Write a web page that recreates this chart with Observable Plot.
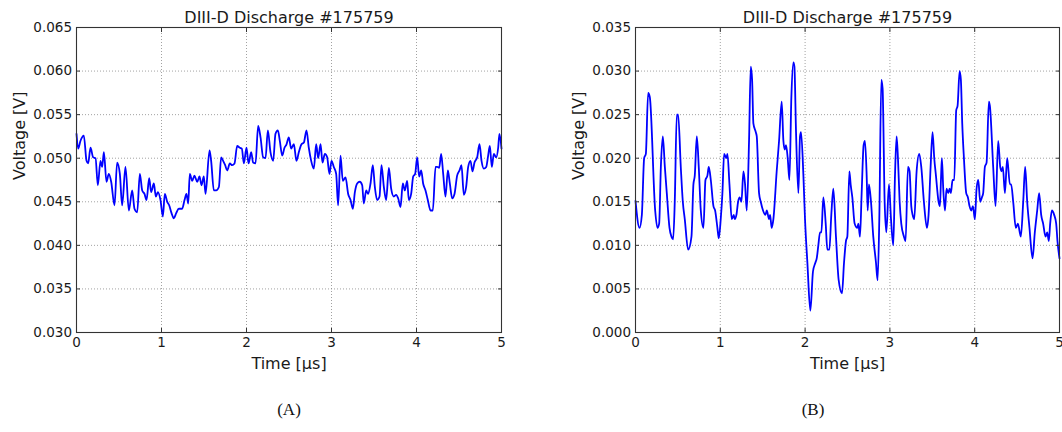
<!DOCTYPE html>
<html>
<head>
<meta charset="utf-8">
<script src="https://cdn.jsdelivr.net/npm/d3@7"></script>
<script src="https://cdn.jsdelivr.net/npm/@observablehq/plot@0.6"></script>
<style>
  html, body { margin: 0; padding: 0; background: #fff; }
  #page { position: relative; width: 1062px; height: 432px; overflow: hidden; background: #fff; }
  .panel { position: absolute; top: 0; width: 520px; height: 380px; }
  .caption { position: absolute; top: 400px; width: 60px; margin-left: -30px; text-align: center;
             font-family: "Liberation Serif", "DejaVu Serif", serif; font-size: 17px; color: #111; }
</style>
</head>
<body>
<div id="page">
  <div class="panel" id="panelA" style="left:0px"></div>
  <div class="panel" id="panelB" style="left:560px"></div>
  <div class="caption" style="left:289px">(A)</div>
  <div class="caption" style="left:813px">(B)</div>
</div>
<script>
// Shared chart text and ticks
const chartTitle = "DIII-D Discharge #175759";
const xLabel = "Time [\u03bcs]";
const yLabel = "Voltage [V]";
const xTicks = [0, 1, 2, 3, 4, 5];
const yTicksA = [0.030, 0.035, 0.040, 0.045, 0.050, 0.055, 0.060, 0.065];
const yTicksB = [0.000, 0.005, 0.010, 0.015, 0.020, 0.025, 0.030, 0.035];

// Trace A: time [µs] and probe voltage [V]
const timeA = [0,0.020,0.047,0.086,0.118,0.137,0.165,0.196,0.224,0.251,0.282,0.302,0.322,0.353,0.380,0.408,0.447,0.478,0.510,0.537,0.576,0.616,0.655,0.682,0.714,0.745,0.773,0.800,0.824,0.855,0.878,0.910,0.933,0.957,0.988,1.016,1.039,1.067,1.090,1.118,1.145,1.173,1.204,1.243,1.271,1.294,1.314,1.333,1.361,1.388,1.420,1.447,1.471,1.498,1.518,1.565,1.584,1.616,1.643,1.675,1.702,1.725,1.749,1.773,1.804,1.831,1.859,1.890,1.922,1.945,1.969,2.000,2.024,2.055,2.078,2.106,2.137,2.165,2.196,2.224,2.251,2.282,2.314,2.341,2.369,2.392,2.420,2.447,2.471,2.498,2.525,2.557,2.588,2.616,2.647,2.675,2.706,2.733,2.761,2.792,2.820,2.843,2.871,2.894,2.922,2.949,2.976,3.000,3.027,3.055,3.078,3.106,3.133,3.165,3.196,3.224,3.251,3.275,3.302,3.333,3.361,3.380,3.408,3.431,3.459,3.486,3.510,3.537,3.565,3.588,3.616,3.643,3.675,3.702,3.733,3.761,3.784,3.812,3.839,3.863,3.890,3.910,3.937,3.961,3.984,4.008,4.031,4.055,4.078,4.106,4.133,4.165,4.192,4.224,4.243,4.267,4.290,4.314,4.341,4.369,4.392,4.420,4.447,4.478,4.506,4.529,4.557,4.584,4.608,4.635,4.659,4.682,4.714,4.741,4.765,4.792,4.820,4.843,4.863,4.886,4.910,4.937,4.961,4.976,5.000];
const voltageA = [0.0528,0.0511,0.0520,0.0526,0.0497,0.0494,0.0512,0.0501,0.0500,0.0469,0.0497,0.0490,0.0507,0.0473,0.0482,0.0473,0.0446,0.0495,0.0482,0.0446,0.0490,0.0440,0.0463,0.0442,0.0438,0.0482,0.0463,0.0459,0.0452,0.0477,0.0461,0.0471,0.0456,0.0461,0.0452,0.0433,0.0459,0.0450,0.0446,0.0437,0.0431,0.0437,0.0442,0.0442,0.0452,0.0459,0.0448,0.0482,0.0474,0.0480,0.0473,0.0479,0.0469,0.0479,0.0459,0.0509,0.0497,0.0463,0.0463,0.0467,0.0501,0.0497,0.0492,0.0486,0.0494,0.0492,0.0494,0.0514,0.0512,0.0511,0.0494,0.0512,0.0494,0.0507,0.0495,0.0494,0.0537,0.0524,0.0501,0.0500,0.0532,0.0507,0.0497,0.0528,0.0532,0.0520,0.0503,0.0512,0.0516,0.0524,0.0511,0.0516,0.0497,0.0507,0.0516,0.0518,0.0532,0.0512,0.0497,0.0488,0.0516,0.0500,0.0516,0.0495,0.0505,0.0501,0.0482,0.0497,0.0490,0.0482,0.0446,0.0503,0.0474,0.0478,0.0459,0.0452,0.0442,0.0461,0.0471,0.0473,0.0469,0.0448,0.0463,0.0459,0.0471,0.0492,0.0467,0.0452,0.0456,0.0492,0.0467,0.0452,0.0489,0.0465,0.0456,0.0458,0.0454,0.0444,0.0471,0.0463,0.0474,0.0452,0.0459,0.0479,0.0482,0.0501,0.0479,0.0486,0.0471,0.0463,0.0452,0.0440,0.0440,0.0490,0.0490,0.0489,0.0505,0.0482,0.0456,0.0486,0.0471,0.0454,0.0459,0.0480,0.0486,0.0492,0.0458,0.0467,0.0490,0.0497,0.0485,0.0495,0.0501,0.0516,0.0497,0.0488,0.0490,0.0503,0.0514,0.0490,0.0505,0.0501,0.0512,0.0528,0.0511];

// Trace B: time [µs] and probe voltage [V]
const timeB = [0,0.047,0.075,0.102,0.122,0.149,0.169,0.232,0.259,0.279,0.299,0.322,0.346,0.369,0.401,0.424,0.444,0.463,0.487,0.503,0.534,0.558,0.581,0.621,0.660,0.683,0.699,0.723,0.746,0.770,0.801,0.825,0.848,0.864,0.888,0.919,0.939,0.966,0.982,1.005,1.025,1.045,1.072,1.084,1.108,1.135,1.159,1.170,1.190,1.210,1.229,1.249,1.273,1.292,1.312,1.339,1.359,1.375,1.390,1.418,1.430,1.457,1.477,1.504,1.532,1.548,1.575,1.587,1.606,1.626,1.665,1.693,1.724,1.744,1.760,1.775,1.795,1.815,1.838,1.862,1.874,1.893,1.921,1.940,1.952,1.980,1.999,2.027,2.062,2.093,2.121,2.137,2.156,2.176,2.192,2.215,2.243,2.262,2.286,2.309,2.333,2.364,2.396,2.435,2.459,2.482,2.498,2.522,2.537,2.557,2.584,2.616,2.628,2.647,2.667,2.690,2.706,2.726,2.738,2.753,2.777,2.804,2.836,2.855,2.875,2.899,2.914,2.938,2.958,2.989,3.013,3.040,3.060,3.079,3.095,3.115,3.134,3.166,3.185,3.213,3.232,3.252,3.268,3.287,3.315,3.346,3.370,3.401,3.437,3.456,3.480,3.503,3.523,3.543,3.574,3.590,3.602,3.613,3.629,3.649,3.668,3.688,3.704,3.719,3.739,3.759,3.782,3.798,3.822,3.837,3.853,3.873,3.900,3.920,3.939,3.959,3.979,4.002,4.022,4.042,4.065,4.085,4.100,4.120,4.140,4.167,4.179,4.218,4.246,4.277,4.301,4.317,4.332,4.356,4.383,4.415,4.430,4.454,4.485,4.509,4.544,4.572,4.595,4.619,4.646,4.682,4.709,4.737,4.760,4.784,4.807,4.835,4.855,4.874,4.890,4.910,4.937,4.961,4.976,5.000];
const voltageB = [0.0151,0.0120,0.0135,0.0200,0.0205,0.0275,0.0270,0.0140,0.0120,0.0125,0.0190,0.0225,0.0190,0.0160,0.0120,0.0110,0.0107,0.0150,0.0250,0.0250,0.0190,0.0150,0.0130,0.0095,0.0110,0.0170,0.0180,0.0225,0.0190,0.0140,0.0120,0.0175,0.0180,0.0190,0.0175,0.0145,0.0140,0.0120,0.0108,0.0130,0.0160,0.0205,0.0200,0.0205,0.0170,0.0130,0.0135,0.0130,0.0135,0.0150,0.0155,0.0150,0.0185,0.0170,0.0140,0.0220,0.0305,0.0290,0.0240,0.0230,0.0225,0.0160,0.0150,0.0140,0.0135,0.0140,0.0130,0.0135,0.0120,0.0130,0.0185,0.0220,0.0265,0.0220,0.0210,0.0215,0.0200,0.0175,0.0270,0.0310,0.0305,0.0230,0.0160,0.0225,0.0230,0.0180,0.0130,0.0080,0.0025,0.0070,0.0080,0.0085,0.0100,0.0115,0.0115,0.0155,0.0125,0.0095,0.0095,0.0135,0.0165,0.0110,0.0060,0.0045,0.0080,0.0105,0.0110,0.0185,0.0170,0.0155,0.0125,0.0120,0.0125,0.0110,0.0160,0.0215,0.0220,0.0180,0.0140,0.0170,0.0150,0.0110,0.0080,0.0060,0.0130,0.0290,0.0280,0.0150,0.0115,0.0170,0.0130,0.0100,0.0180,0.0225,0.0200,0.0150,0.0125,0.0110,0.0105,0.0190,0.0185,0.0145,0.0135,0.0130,0.0185,0.0205,0.0190,0.0150,0.0120,0.0135,0.0190,0.0230,0.0200,0.0180,0.0150,0.0145,0.0175,0.0200,0.0165,0.0140,0.0165,0.0160,0.0165,0.0160,0.0175,0.0175,0.0255,0.0260,0.0300,0.0290,0.0240,0.0200,0.0160,0.0155,0.0145,0.0140,0.0145,0.0130,0.0165,0.0175,0.0150,0.0155,0.0160,0.0190,0.0195,0.0265,0.0260,0.0190,0.0145,0.0220,0.0190,0.0185,0.0190,0.0160,0.0200,0.0170,0.0170,0.0150,0.0120,0.0125,0.0110,0.0150,0.0190,0.0150,0.0120,0.0085,0.0115,0.0140,0.0160,0.0135,0.0125,0.0110,0.0115,0.0105,0.0125,0.0140,0.0135,0.0125,0.0105,0.0085];

const font = "'DejaVu Sans', 'Bitstream Vera Sans', sans-serif";
const ink = "#1a1a1a";

function tracePanel(time, voltage, yTicks, marginLeft, marginRight) {
  const rows = time.map((t, i) => ({t, v: voltage[i]}));
  const grid = {stroke: "#8a8a8a", strokeOpacity: 1, strokeWidth: 0.8, strokeDasharray: "1,2"};
  return Plot.plot({
    width: 520,
    height: 380,
    marginLeft,
    marginRight,
    marginTop: 27,
    marginBottom: 48,
    style: {fontFamily: font, fontSize: "13.5px", color: ink, background: "transparent", overflow: "visible"},
    x: {domain: [0, 5]},
    y: {domain: [yTicks[0], yTicks[yTicks.length - 1]]},
    marks: [
      Plot.gridX(xTicks, grid),
      Plot.gridY(yTicks, grid),
      Plot.line(rows, {x: "t", y: "v", curve: "monotone-x", stroke: "#0000ff", strokeWidth: 1.8, strokeLinejoin: "round"}),
      Plot.frame({stroke: "#333", strokeWidth: 1.1}),
      // inward ticks on all four sides, labels on left and bottom only
      Plot.axisX(xTicks, {anchor: "bottom", tickSize: -4, tickPadding: 9, tickFormat: d3.format("d"), label: null, stroke: "#333"}),
      Plot.axisX(xTicks, {anchor: "top", tickSize: -4, tickFormat: () => "", label: null, stroke: "#333"}),
      Plot.axisY(yTicks, {anchor: "left", tickSize: -4, tickPadding: 8.5, tickFormat: d3.format(".3f"), label: null, stroke: "#333"}),
      Plot.axisY(yTicks, {anchor: "right", tickSize: -4, tickFormat: () => "", label: null, stroke: "#333"}),
      Plot.text([chartTitle], {frameAnchor: "top", dy: -10, lineAnchor: "middle", fontSize: 16, fill: ink}),
      Plot.text([xLabel], {frameAnchor: "bottom", dy: 31, lineAnchor: "middle", fontSize: 16, fill: ink}),
      Plot.text([yLabel], {frameAnchor: "left", dx: -57, rotate: -90, lineAnchor: "middle", fontSize: 16, fill: ink})
    ]
  });
}

document.getElementById("panelA").append(tracePanel(timeA, voltageA, yTicksA, 76, 19));
document.getElementById("panelB").append(tracePanel(timeB, voltageB, yTicksB, 75, 21));
</script>
</body>
</html>
